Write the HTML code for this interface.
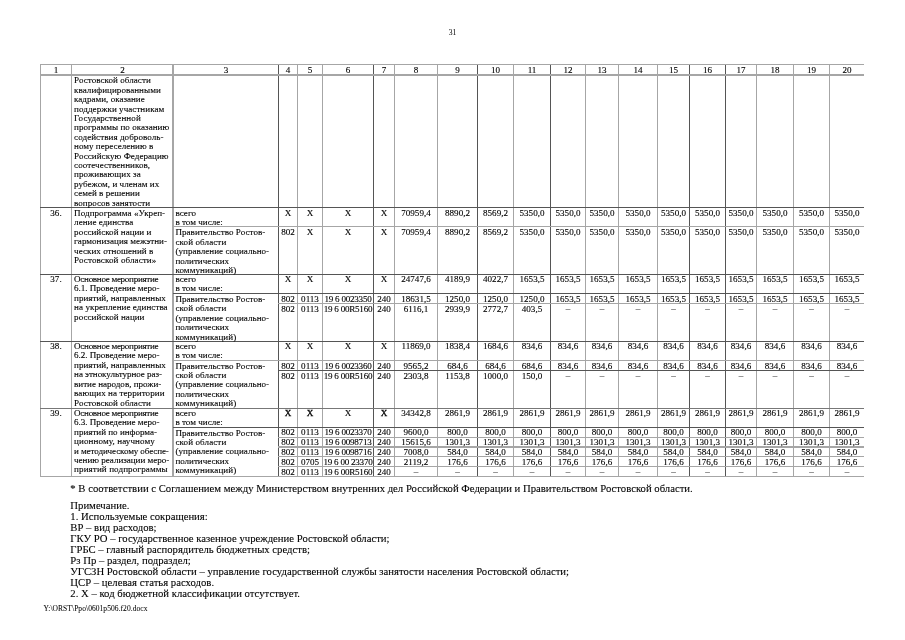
<!DOCTYPE html>
<html lang="ru"><head><meta charset="utf-8"><title>31</title>
<style>
html,body{margin:0;padding:0;background:#fff;}
body{width:905px;height:640px;position:relative;overflow:hidden;font-family:"Liberation Serif",serif;color:#000;}
.v,.h{position:absolute;}
.t{position:absolute;-webkit-text-stroke:0.12px #000;font-size:9.07px;line-height:9.42px;white-space:nowrap;}
.c{text-align:center;}
.n{position:absolute;-webkit-text-stroke:0.1px #000;font-size:10.71px;line-height:11.05px;white-space:nowrap;left:70.3px;}
.k{letter-spacing:-0.24px;}
.k6{letter-spacing:-0.24px;}
.d{position:relative;top:-1px;}
.b{-webkit-text-stroke:0.3px #000;}
#w{position:absolute;left:0;top:0;width:905px;height:640px;will-change:transform;}
</style></head><body><div id="w">

<div class="v" style="left:40px;top:64px;width:1px;height:413px;background:#a6a6a6"></div>
<div class="v" style="left:71px;top:64px;width:1px;height:413px;background:#a6a6a6"></div>
<div class="v" style="left:172px;top:64px;width:2px;height:413px;background:#a6a6a6"></div>
<div class="v" style="left:278px;top:64px;width:1px;height:413px;background:#555"></div>
<div class="v" style="left:297px;top:64px;width:1px;height:413px;background:#a6a6a6"></div>
<div class="v" style="left:322px;top:64px;width:1px;height:413px;background:#a6a6a6"></div>
<div class="v" style="left:373px;top:64px;width:1px;height:413px;background:#555"></div>
<div class="v" style="left:394px;top:64px;width:1px;height:413px;background:#a6a6a6"></div>
<div class="v" style="left:437px;top:64px;width:1px;height:413px;background:#a6a6a6"></div>
<div class="v" style="left:477px;top:64px;width:1px;height:413px;background:#555"></div>
<div class="v" style="left:513px;top:64px;width:1px;height:413px;background:#a6a6a6"></div>
<div class="v" style="left:550px;top:64px;width:1px;height:413px;background:#555"></div>
<div class="v" style="left:585px;top:64px;width:1px;height:413px;background:#a6a6a6"></div>
<div class="v" style="left:618px;top:64px;width:1px;height:413px;background:#a6a6a6"></div>
<div class="v" style="left:657px;top:64px;width:1px;height:413px;background:#a6a6a6"></div>
<div class="v" style="left:689px;top:64px;width:1px;height:413px;background:#555"></div>
<div class="v" style="left:725px;top:64px;width:1px;height:413px;background:#555"></div>
<div class="v" style="left:756px;top:64px;width:1px;height:413px;background:#a6a6a6"></div>
<div class="v" style="left:793px;top:64px;width:1px;height:413px;background:#a6a6a6"></div>
<div class="v" style="left:829px;top:64px;width:1px;height:413px;background:#a6a6a6"></div>
<div class="h" style="left:40px;top:64px;width:824px;height:1px;background:#a6a6a6"></div>
<div class="h" style="left:40px;top:74px;width:824px;height:2px;background:#a6a6a6"></div>
<div class="h" style="left:40px;top:207px;width:824px;height:1px;background:#555"></div>
<div class="h" style="left:173px;top:226px;width:691px;height:1px;background:#a6a6a6"></div>
<div class="h" style="left:40px;top:274px;width:824px;height:1px;background:#555"></div>
<div class="h" style="left:173px;top:293px;width:691px;height:1px;background:#555"></div>
<div class="h" style="left:278px;top:303px;width:586px;height:1px;background:#a6a6a6"></div>
<div class="h" style="left:40px;top:341px;width:824px;height:1px;background:#555"></div>
<div class="h" style="left:173px;top:360px;width:691px;height:1px;background:#a6a6a6"></div>
<div class="h" style="left:278px;top:370px;width:586px;height:1px;background:#555"></div>
<div class="h" style="left:40px;top:408px;width:824px;height:1px;background:#777"></div>
<div class="h" style="left:173px;top:427px;width:691px;height:1px;background:#555"></div>
<div class="h" style="left:278px;top:437px;width:586px;height:1px;background:#a6a6a6"></div>
<div class="h" style="left:278px;top:446px;width:586px;height:2px;background:#a6a6a6"></div>
<div class="h" style="left:278px;top:456px;width:586px;height:1px;background:#a6a6a6"></div>
<div class="h" style="left:278px;top:466px;width:586px;height:1px;background:#a6a6a6"></div>
<div class="h" style="left:40px;top:476px;width:824px;height:1px;background:#a6a6a6"></div>


<div class="t c" style="left:430px;width:45px;top:28.4px;font-size:7.7px;-webkit-text-stroke:0">31</div>
<div class="t c " style="left:41px;width:30px;top:65.84px">1</div>
<div class="t c " style="left:72px;width:101px;top:65.84px">2</div>
<div class="t c " style="left:174px;width:104px;top:65.84px">3</div>
<div class="t c " style="left:279px;width:18px;top:65.84px">4</div>
<div class="t c " style="left:298px;width:24px;top:65.84px">5</div>
<div class="t c " style="left:323px;width:50px;top:65.84px">6</div>
<div class="t c " style="left:374px;width:20px;top:65.84px">7</div>
<div class="t c " style="left:395px;width:42px;top:65.84px">8</div>
<div class="t c " style="left:438px;width:39px;top:65.84px">9</div>
<div class="t c " style="left:478px;width:35px;top:65.84px">10</div>
<div class="t c " style="left:514px;width:36px;top:65.84px">11</div>
<div class="t c " style="left:551px;width:34px;top:65.84px">12</div>
<div class="t c " style="left:586px;width:32px;top:65.84px">13</div>
<div class="t c " style="left:619px;width:38px;top:65.84px">14</div>
<div class="t c " style="left:658px;width:31px;top:65.84px">15</div>
<div class="t c " style="left:690px;width:35px;top:65.84px">16</div>
<div class="t c " style="left:726px;width:30px;top:65.84px">17</div>
<div class="t c " style="left:757px;width:36px;top:65.84px">18</div>
<div class="t c " style="left:794px;width:35px;top:65.84px">19</div>
<div class="t c " style="left:830px;width:34px;top:65.84px">20</div>
<div class="t " style="left:74.1px;top:76.24px"><span style="letter-spacing:0.032px">Ростовской области</span><br><span style="letter-spacing:0.034px">квалифицированными</span><br><span style="letter-spacing:-0.004px">кадрами, оказание</span><br><span style="letter-spacing:0.034px">поддержки участникам</span><br><span style="letter-spacing:0.079px">Государственной</span><br><span style="letter-spacing:0.030px">программы по оказанию</span><br><span style="letter-spacing:0.047px">содействия доброволь-</span><br><span style="letter-spacing:0.002px">ному переселению в</span><br><span style="letter-spacing:0.034px">Российскую Федерацию</span><br><span style="letter-spacing:0.042px">соотечественников,</span><br><span style="letter-spacing:0.051px">проживающих за</span><br><span style="letter-spacing:0.035px">рубежом, и членам их</span><br><span style="letter-spacing:-0.003px">семей в решении</span><br><span style="letter-spacing:0.000px">вопросов занятости</span></div>
<div class="t c " style="left:41px;width:30px;top:208.94px">36.</div>
<div class="t " style="left:74.1px;top:208.94px"><span style="letter-spacing:0.040px">Подпрограмма «Укреп-</span><br><span style="letter-spacing:0.018px">ление единства</span><br><span style="letter-spacing:0.004px">российской нации и</span><br><span style="letter-spacing:0.024px">гармонизация межэтни-</span><br><span style="letter-spacing:0.024px">ческих отношений в</span><br><span style="letter-spacing:0.089px">Ростовской области»</span></div>
<div class="t " style="left:175.4px;top:208.94px"><span style="letter-spacing:0.048px">всего</span><br><span style="letter-spacing:0.018px">в том числе:</span></div>
<div class="t " style="left:175.4px;top:228.24px"><span style="letter-spacing:0.041px">Правительство Ростов-</span><br><span style="letter-spacing:0.086px">ской области</span><br><span style="letter-spacing:0.033px">(управление социально-</span><br><span style="letter-spacing:-0.028px">политических</span><br><span style="letter-spacing:0.083px">коммуникаций)</span></div>
<div class="t c " style="left:279px;width:18px;top:208.94px">Х</div>
<div class="t c " style="left:298px;width:24px;top:208.94px">Х</div>
<div class="t c k6" style="left:323px;width:50px;top:208.94px">Х</div>
<div class="t c " style="left:374px;width:20px;top:208.94px">Х</div>
<div class="t c " style="left:395px;width:42px;top:208.94px">70959,4</div>
<div class="t c " style="left:438px;width:39px;top:208.94px">8890,2</div>
<div class="t c " style="left:478px;width:35px;top:208.94px">8569,2</div>
<div class="t c " style="left:514px;width:36px;top:208.94px">5350,0</div>
<div class="t c " style="left:551px;width:34px;top:208.94px">5350,0</div>
<div class="t c " style="left:586px;width:32px;top:208.94px">5350,0</div>
<div class="t c " style="left:619px;width:38px;top:208.94px">5350,0</div>
<div class="t c " style="left:658px;width:31px;top:208.94px">5350,0</div>
<div class="t c " style="left:690px;width:35px;top:208.94px">5350,0</div>
<div class="t c " style="left:726px;width:30px;top:208.94px">5350,0</div>
<div class="t c " style="left:757px;width:36px;top:208.94px">5350,0</div>
<div class="t c " style="left:794px;width:35px;top:208.94px">5350,0</div>
<div class="t c " style="left:830px;width:34px;top:208.94px">5350,0</div>
<div class="t c " style="left:279px;width:18px;top:228.24px">802</div>
<div class="t c " style="left:298px;width:24px;top:228.24px">Х</div>
<div class="t c k6" style="left:323px;width:50px;top:228.24px">Х</div>
<div class="t c " style="left:374px;width:20px;top:228.24px">Х</div>
<div class="t c " style="left:395px;width:42px;top:228.24px">70959,4</div>
<div class="t c " style="left:438px;width:39px;top:228.24px">8890,2</div>
<div class="t c " style="left:478px;width:35px;top:228.24px">8569,2</div>
<div class="t c " style="left:514px;width:36px;top:228.24px">5350,0</div>
<div class="t c " style="left:551px;width:34px;top:228.24px">5350,0</div>
<div class="t c " style="left:586px;width:32px;top:228.24px">5350,0</div>
<div class="t c " style="left:619px;width:38px;top:228.24px">5350,0</div>
<div class="t c " style="left:658px;width:31px;top:228.24px">5350,0</div>
<div class="t c " style="left:690px;width:35px;top:228.24px">5350,0</div>
<div class="t c " style="left:726px;width:30px;top:228.24px">5350,0</div>
<div class="t c " style="left:757px;width:36px;top:228.24px">5350,0</div>
<div class="t c " style="left:794px;width:35px;top:228.24px">5350,0</div>
<div class="t c " style="left:830px;width:34px;top:228.24px">5350,0</div>
<div class="t c " style="left:41px;width:30px;top:275.04px">37.</div>
<div class="t " style="left:74.1px;top:275.04px"><span style="letter-spacing:-0.295px">Основное мероприятие</span><br><span style="letter-spacing:-0.033px">6.1. Проведение меро-</span><br><span style="letter-spacing:-0.002px">приятий, направленных</span><br><span style="letter-spacing:0.055px">на укрепление единства</span><br><span style="letter-spacing:0.021px">российской нации</span></div>
<div class="t " style="left:175.4px;top:275.04px"><span style="letter-spacing:0.048px">всего</span><br><span style="letter-spacing:0.018px">в том числе:</span></div>
<div class="t " style="left:175.4px;top:295.04px"><span style="letter-spacing:0.041px">Правительство Ростов-</span><br><span style="letter-spacing:0.086px">ской области</span><br><span style="letter-spacing:0.033px">(управление социально-</span><br><span style="letter-spacing:-0.028px">политических</span><br><span style="letter-spacing:0.083px">коммуникаций)</span></div>
<div class="t c " style="left:279px;width:18px;top:275.24px">Х</div>
<div class="t c " style="left:298px;width:24px;top:275.24px">Х</div>
<div class="t c k6" style="left:323px;width:50px;top:275.24px">Х</div>
<div class="t c " style="left:374px;width:20px;top:275.24px">Х</div>
<div class="t c " style="left:395px;width:42px;top:275.24px">24747,6</div>
<div class="t c " style="left:438px;width:39px;top:275.24px">4189,9</div>
<div class="t c " style="left:478px;width:35px;top:275.24px">4022,7</div>
<div class="t c " style="left:514px;width:36px;top:275.24px">1653,5</div>
<div class="t c " style="left:551px;width:34px;top:275.24px">1653,5</div>
<div class="t c " style="left:586px;width:32px;top:275.24px">1653,5</div>
<div class="t c " style="left:619px;width:38px;top:275.24px">1653,5</div>
<div class="t c " style="left:658px;width:31px;top:275.24px">1653,5</div>
<div class="t c " style="left:690px;width:35px;top:275.24px">1653,5</div>
<div class="t c " style="left:726px;width:30px;top:275.24px">1653,5</div>
<div class="t c " style="left:757px;width:36px;top:275.24px">1653,5</div>
<div class="t c " style="left:794px;width:35px;top:275.24px">1653,5</div>
<div class="t c " style="left:830px;width:34px;top:275.24px">1653,5</div>
<div class="t c " style="left:279px;width:18px;top:295.24px">802</div>
<div class="t c " style="left:298px;width:24px;top:295.24px">0113</div>
<div class="t c k6" style="left:323px;width:50px;top:295.24px">19 6 0023350</div>
<div class="t c " style="left:374px;width:20px;top:295.24px">240</div>
<div class="t c " style="left:395px;width:42px;top:295.24px">18631,5</div>
<div class="t c " style="left:438px;width:39px;top:295.24px">1250,0</div>
<div class="t c " style="left:478px;width:35px;top:295.24px">1250,0</div>
<div class="t c " style="left:514px;width:36px;top:295.24px">1250,0</div>
<div class="t c " style="left:551px;width:34px;top:295.24px">1653,5</div>
<div class="t c " style="left:586px;width:32px;top:295.24px">1653,5</div>
<div class="t c " style="left:619px;width:38px;top:295.24px">1653,5</div>
<div class="t c " style="left:658px;width:31px;top:295.24px">1653,5</div>
<div class="t c " style="left:690px;width:35px;top:295.24px">1653,5</div>
<div class="t c " style="left:726px;width:30px;top:295.24px">1653,5</div>
<div class="t c " style="left:757px;width:36px;top:295.24px">1653,5</div>
<div class="t c " style="left:794px;width:35px;top:295.24px">1653,5</div>
<div class="t c " style="left:830px;width:34px;top:295.24px">1653,5</div>
<div class="t c " style="left:279px;width:18px;top:305.24px">802</div>
<div class="t c " style="left:298px;width:24px;top:305.24px">0113</div>
<div class="t c k6" style="left:323px;width:50px;top:305.24px">19 6 00R5160</div>
<div class="t c " style="left:374px;width:20px;top:305.24px">240</div>
<div class="t c " style="left:395px;width:42px;top:305.24px">6116,1</div>
<div class="t c " style="left:438px;width:39px;top:305.24px">2939,9</div>
<div class="t c " style="left:478px;width:35px;top:305.24px">2772,7</div>
<div class="t c " style="left:514px;width:36px;top:305.24px">403,5</div>
<div class="t c " style="left:551px;width:34px;top:305.24px"><span class="d">–</span></div>
<div class="t c " style="left:586px;width:32px;top:305.24px"><span class="d">–</span></div>
<div class="t c " style="left:619px;width:38px;top:305.24px"><span class="d">–</span></div>
<div class="t c " style="left:658px;width:31px;top:305.24px"><span class="d">–</span></div>
<div class="t c " style="left:690px;width:35px;top:305.24px"><span class="d">–</span></div>
<div class="t c " style="left:726px;width:30px;top:305.24px"><span class="d">–</span></div>
<div class="t c " style="left:757px;width:36px;top:305.24px"><span class="d">–</span></div>
<div class="t c " style="left:794px;width:35px;top:305.24px"><span class="d">–</span></div>
<div class="t c " style="left:830px;width:34px;top:305.24px"><span class="d">–</span></div>
<div class="t c " style="left:41px;width:30px;top:342.04px">38.</div>
<div class="t " style="left:74.1px;top:342.04px"><span style="letter-spacing:-0.295px">Основное мероприятие</span><br><span style="letter-spacing:-0.033px">6.2. Проведение меро-</span><br><span style="letter-spacing:-0.002px">приятий, направленных</span><br><span style="letter-spacing:-0.049px">на этнокультурное раз-</span><br><span style="letter-spacing:-0.021px">витие народов, прожи-</span><br><span style="letter-spacing:0.062px">вающих на территории</span><br><span style="letter-spacing:0.038px">Ростовской области</span></div>
<div class="t " style="left:175.4px;top:342.04px"><span style="letter-spacing:0.048px">всего</span><br><span style="letter-spacing:0.018px">в том числе:</span></div>
<div class="t " style="left:175.4px;top:361.64px"><span style="letter-spacing:0.041px">Правительство Ростов-</span><br><span style="letter-spacing:0.086px">ской области</span><br><span style="letter-spacing:0.033px">(управление социально-</span><br><span style="letter-spacing:-0.028px">политических</span><br><span style="letter-spacing:0.083px">коммуникаций)</span></div>
<div class="t c " style="left:279px;width:18px;top:342.24px">Х</div>
<div class="t c " style="left:298px;width:24px;top:342.24px">Х</div>
<div class="t c k6" style="left:323px;width:50px;top:342.24px">Х</div>
<div class="t c " style="left:374px;width:20px;top:342.24px">Х</div>
<div class="t c " style="left:395px;width:42px;top:342.24px">11869,0</div>
<div class="t c " style="left:438px;width:39px;top:342.24px">1838,4</div>
<div class="t c " style="left:478px;width:35px;top:342.24px">1684,6</div>
<div class="t c " style="left:514px;width:36px;top:342.24px">834,6</div>
<div class="t c " style="left:551px;width:34px;top:342.24px">834,6</div>
<div class="t c " style="left:586px;width:32px;top:342.24px">834,6</div>
<div class="t c " style="left:619px;width:38px;top:342.24px">834,6</div>
<div class="t c " style="left:658px;width:31px;top:342.24px">834,6</div>
<div class="t c " style="left:690px;width:35px;top:342.24px">834,6</div>
<div class="t c " style="left:726px;width:30px;top:342.24px">834,6</div>
<div class="t c " style="left:757px;width:36px;top:342.24px">834,6</div>
<div class="t c " style="left:794px;width:35px;top:342.24px">834,6</div>
<div class="t c " style="left:830px;width:34px;top:342.24px">834,6</div>
<div class="t c " style="left:279px;width:18px;top:362.24px">802</div>
<div class="t c " style="left:298px;width:24px;top:362.24px">0113</div>
<div class="t c k6" style="left:323px;width:50px;top:362.24px">19 6 0023360</div>
<div class="t c " style="left:374px;width:20px;top:362.24px">240</div>
<div class="t c " style="left:395px;width:42px;top:362.24px">9565,2</div>
<div class="t c " style="left:438px;width:39px;top:362.24px">684,6</div>
<div class="t c " style="left:478px;width:35px;top:362.24px">684,6</div>
<div class="t c " style="left:514px;width:36px;top:362.24px">684,6</div>
<div class="t c " style="left:551px;width:34px;top:362.24px">834,6</div>
<div class="t c " style="left:586px;width:32px;top:362.24px">834,6</div>
<div class="t c " style="left:619px;width:38px;top:362.24px">834,6</div>
<div class="t c " style="left:658px;width:31px;top:362.24px">834,6</div>
<div class="t c " style="left:690px;width:35px;top:362.24px">834,6</div>
<div class="t c " style="left:726px;width:30px;top:362.24px">834,6</div>
<div class="t c " style="left:757px;width:36px;top:362.24px">834,6</div>
<div class="t c " style="left:794px;width:35px;top:362.24px">834,6</div>
<div class="t c " style="left:830px;width:34px;top:362.24px">834,6</div>
<div class="t c " style="left:279px;width:18px;top:372.24px">802</div>
<div class="t c " style="left:298px;width:24px;top:372.24px">0113</div>
<div class="t c k6" style="left:323px;width:50px;top:372.24px">19 6 00R5160</div>
<div class="t c " style="left:374px;width:20px;top:372.24px">240</div>
<div class="t c " style="left:395px;width:42px;top:372.24px">2303,8</div>
<div class="t c " style="left:438px;width:39px;top:372.24px">1153,8</div>
<div class="t c " style="left:478px;width:35px;top:372.24px">1000,0</div>
<div class="t c " style="left:514px;width:36px;top:372.24px">150,0</div>
<div class="t c " style="left:551px;width:34px;top:372.24px"><span class="d">–</span></div>
<div class="t c " style="left:586px;width:32px;top:372.24px"><span class="d">–</span></div>
<div class="t c " style="left:619px;width:38px;top:372.24px"><span class="d">–</span></div>
<div class="t c " style="left:658px;width:31px;top:372.24px"><span class="d">–</span></div>
<div class="t c " style="left:690px;width:35px;top:372.24px"><span class="d">–</span></div>
<div class="t c " style="left:726px;width:30px;top:372.24px"><span class="d">–</span></div>
<div class="t c " style="left:757px;width:36px;top:372.24px"><span class="d">–</span></div>
<div class="t c " style="left:794px;width:35px;top:372.24px"><span class="d">–</span></div>
<div class="t c " style="left:830px;width:34px;top:372.24px"><span class="d">–</span></div>
<div class="t c " style="left:41px;width:30px;top:409.04px">39.</div>
<div class="t " style="left:74.1px;top:408.84px"><span style="letter-spacing:-0.295px">Основное мероприятие</span><br><span style="letter-spacing:-0.033px">6.3. Проведение меро-</span><br><span style="letter-spacing:-0.016px">приятий по информа-</span><br><span style="letter-spacing:0.094px">ционному, научному</span><br><span style="letter-spacing:-0.116px">и методическому обеспе-</span><br><span style="letter-spacing:-0.027px">чению реализации меро-</span><br><span style="letter-spacing:0.091px">приятий подпрограммы</span></div>
<div class="t " style="left:175.4px;top:408.84px"><span style="letter-spacing:0.048px">всего</span><br><span style="letter-spacing:0.018px">в том числе:</span></div>
<div class="t " style="left:175.4px;top:428.64px"><span style="letter-spacing:0.041px">Правительство Ростов-</span><br><span style="letter-spacing:0.086px">ской области</span><br><span style="letter-spacing:0.033px">(управление социально-</span><br><span style="letter-spacing:-0.028px">политических</span><br><span style="letter-spacing:0.083px">коммуникаций)</span></div>
<div class="t c " style="left:279px;width:18px;top:409.04px"><span class="b">Х</span></div>
<div class="t c " style="left:298px;width:24px;top:409.04px"><span class="b">Х</span></div>
<div class="t c k6" style="left:323px;width:50px;top:409.04px">Х</div>
<div class="t c " style="left:374px;width:20px;top:409.04px"><span class="b">Х</span></div>
<div class="t c " style="left:395px;width:42px;top:409.04px">34342,8</div>
<div class="t c " style="left:438px;width:39px;top:409.04px">2861,9</div>
<div class="t c " style="left:478px;width:35px;top:409.04px">2861,9</div>
<div class="t c " style="left:514px;width:36px;top:409.04px">2861,9</div>
<div class="t c " style="left:551px;width:34px;top:409.04px">2861,9</div>
<div class="t c " style="left:586px;width:32px;top:409.04px">2861,9</div>
<div class="t c " style="left:619px;width:38px;top:409.04px">2861,9</div>
<div class="t c " style="left:658px;width:31px;top:409.04px">2861,9</div>
<div class="t c " style="left:690px;width:35px;top:409.04px">2861,9</div>
<div class="t c " style="left:726px;width:30px;top:409.04px">2861,9</div>
<div class="t c " style="left:757px;width:36px;top:409.04px">2861,9</div>
<div class="t c " style="left:794px;width:35px;top:409.04px">2861,9</div>
<div class="t c " style="left:830px;width:34px;top:409.04px">2861,9</div>
<div class="t c " style="left:279px;width:18px;top:428.24px">802</div>
<div class="t c " style="left:298px;width:24px;top:428.24px">0113</div>
<div class="t c k6" style="left:323px;width:50px;top:428.24px">19 6 0023370</div>
<div class="t c " style="left:374px;width:20px;top:428.24px">240</div>
<div class="t c " style="left:395px;width:42px;top:428.24px">9600,0</div>
<div class="t c " style="left:438px;width:39px;top:428.24px">800,0</div>
<div class="t c " style="left:478px;width:35px;top:428.24px">800,0</div>
<div class="t c " style="left:514px;width:36px;top:428.24px">800,0</div>
<div class="t c " style="left:551px;width:34px;top:428.24px">800,0</div>
<div class="t c " style="left:586px;width:32px;top:428.24px">800,0</div>
<div class="t c " style="left:619px;width:38px;top:428.24px">800,0</div>
<div class="t c " style="left:658px;width:31px;top:428.24px">800,0</div>
<div class="t c " style="left:690px;width:35px;top:428.24px">800,0</div>
<div class="t c " style="left:726px;width:30px;top:428.24px">800,0</div>
<div class="t c " style="left:757px;width:36px;top:428.24px">800,0</div>
<div class="t c " style="left:794px;width:35px;top:428.24px">800,0</div>
<div class="t c " style="left:830px;width:34px;top:428.24px">800,0</div>
<div class="t c " style="left:279px;width:18px;top:438.24px">802</div>
<div class="t c " style="left:298px;width:24px;top:438.24px">0113</div>
<div class="t c k6" style="left:323px;width:50px;top:438.24px">19 6 0098713</div>
<div class="t c " style="left:374px;width:20px;top:438.24px">240</div>
<div class="t c " style="left:395px;width:42px;top:438.24px">15615,6</div>
<div class="t c " style="left:438px;width:39px;top:438.24px">1301,3</div>
<div class="t c " style="left:478px;width:35px;top:438.24px">1301,3</div>
<div class="t c " style="left:514px;width:36px;top:438.24px">1301,3</div>
<div class="t c " style="left:551px;width:34px;top:438.24px">1301,3</div>
<div class="t c " style="left:586px;width:32px;top:438.24px">1301,3</div>
<div class="t c " style="left:619px;width:38px;top:438.24px">1301,3</div>
<div class="t c " style="left:658px;width:31px;top:438.24px">1301,3</div>
<div class="t c " style="left:690px;width:35px;top:438.24px">1301,3</div>
<div class="t c " style="left:726px;width:30px;top:438.24px">1301,3</div>
<div class="t c " style="left:757px;width:36px;top:438.24px">1301,3</div>
<div class="t c " style="left:794px;width:35px;top:438.24px">1301,3</div>
<div class="t c " style="left:830px;width:34px;top:438.24px">1301,3</div>
<div class="t c " style="left:279px;width:18px;top:448.24px">802</div>
<div class="t c " style="left:298px;width:24px;top:448.24px">0113</div>
<div class="t c k6" style="left:323px;width:50px;top:448.24px">19 6 0098716</div>
<div class="t c " style="left:374px;width:20px;top:448.24px">240</div>
<div class="t c " style="left:395px;width:42px;top:448.24px">7008,0</div>
<div class="t c " style="left:438px;width:39px;top:448.24px">584,0</div>
<div class="t c " style="left:478px;width:35px;top:448.24px">584,0</div>
<div class="t c " style="left:514px;width:36px;top:448.24px">584,0</div>
<div class="t c " style="left:551px;width:34px;top:448.24px">584,0</div>
<div class="t c " style="left:586px;width:32px;top:448.24px">584,0</div>
<div class="t c " style="left:619px;width:38px;top:448.24px">584,0</div>
<div class="t c " style="left:658px;width:31px;top:448.24px">584,0</div>
<div class="t c " style="left:690px;width:35px;top:448.24px">584,0</div>
<div class="t c " style="left:726px;width:30px;top:448.24px">584,0</div>
<div class="t c " style="left:757px;width:36px;top:448.24px">584,0</div>
<div class="t c " style="left:794px;width:35px;top:448.24px">584,0</div>
<div class="t c " style="left:830px;width:34px;top:448.24px">584,0</div>
<div class="t c " style="left:279px;width:18px;top:458.24px">802</div>
<div class="t c " style="left:298px;width:24px;top:458.24px">0705</div>
<div class="t c k6" style="left:323px;width:50px;top:458.24px">19 6 00 23370</div>
<div class="t c " style="left:374px;width:20px;top:458.24px">240</div>
<div class="t c " style="left:395px;width:42px;top:458.24px">2119,2</div>
<div class="t c " style="left:438px;width:39px;top:458.24px">176,6</div>
<div class="t c " style="left:478px;width:35px;top:458.24px">176,6</div>
<div class="t c " style="left:514px;width:36px;top:458.24px">176,6</div>
<div class="t c " style="left:551px;width:34px;top:458.24px">176,6</div>
<div class="t c " style="left:586px;width:32px;top:458.24px">176,6</div>
<div class="t c " style="left:619px;width:38px;top:458.24px">176,6</div>
<div class="t c " style="left:658px;width:31px;top:458.24px">176,6</div>
<div class="t c " style="left:690px;width:35px;top:458.24px">176,6</div>
<div class="t c " style="left:726px;width:30px;top:458.24px">176,6</div>
<div class="t c " style="left:757px;width:36px;top:458.24px">176,6</div>
<div class="t c " style="left:794px;width:35px;top:458.24px">176,6</div>
<div class="t c " style="left:830px;width:34px;top:458.24px">176,6</div>
<div class="t c " style="left:279px;width:18px;top:468.24px">802</div>
<div class="t c " style="left:298px;width:24px;top:468.24px">0113</div>
<div class="t c k6" style="left:323px;width:50px;top:468.24px">19 6 00R5160</div>
<div class="t c " style="left:374px;width:20px;top:468.24px">240</div>
<div class="t c " style="left:395px;width:42px;top:468.24px"><span class="d">–</span></div>
<div class="t c " style="left:438px;width:39px;top:468.24px"><span class="d">–</span></div>
<div class="t c " style="left:478px;width:35px;top:468.24px"><span class="d">–</span></div>
<div class="t c " style="left:514px;width:36px;top:468.24px"><span class="d">–</span></div>
<div class="t c " style="left:551px;width:34px;top:468.24px"><span class="d">–</span></div>
<div class="t c " style="left:586px;width:32px;top:468.24px"><span class="d">–</span></div>
<div class="t c " style="left:619px;width:38px;top:468.24px"><span class="d">–</span></div>
<div class="t c " style="left:658px;width:31px;top:468.24px"><span class="d">–</span></div>
<div class="t c " style="left:690px;width:35px;top:468.24px"><span class="d">–</span></div>
<div class="t c " style="left:726px;width:30px;top:468.24px"><span class="d">–</span></div>
<div class="t c " style="left:757px;width:36px;top:468.24px"><span class="d">–</span></div>
<div class="t c " style="left:794px;width:35px;top:468.24px"><span class="d">–</span></div>
<div class="t c " style="left:830px;width:34px;top:468.24px"><span class="d">–</span></div>
<div class="n" style="top:482.70px">* В соответствии с Соглашением между Министерством внутренних дел Российской Федерации и Правительством Ростовской области.</div>
<div class="n" style="top:499.70px">Примечание.</div>
<div class="n" style="top:510.70px">1. Используемые сокращения:</div>
<div class="n" style="top:521.80px">ВР – вид расходов;</div>
<div class="n" style="top:532.90px">ГКУ РО – государственное казенное учреждение Ростовской области;</div>
<div class="n" style="top:543.90px">ГРБС – главный распорядитель бюджетных средств;</div>
<div class="n" style="top:555.00px">Рз Пр – раздел, подраздел;</div>
<div class="n" style="top:566.00px">УГСЗН Ростовской области – управление государственной службы занятости населения Ростовской области;</div>
<div class="n" style="top:577.10px">ЦСР – целевая статья расходов.</div>
<div class="n" style="top:588.10px">2. Х – код бюджетной классификации отсутствует.</div>
<div class="t" style="left:43.5px;top:603.8px;font-size:7.5px;letter-spacing:0.06px;-webkit-text-stroke:0.05px #000">Y:\ORST\Ppo\0601p506.f20.docx</div>
</div></body></html>
